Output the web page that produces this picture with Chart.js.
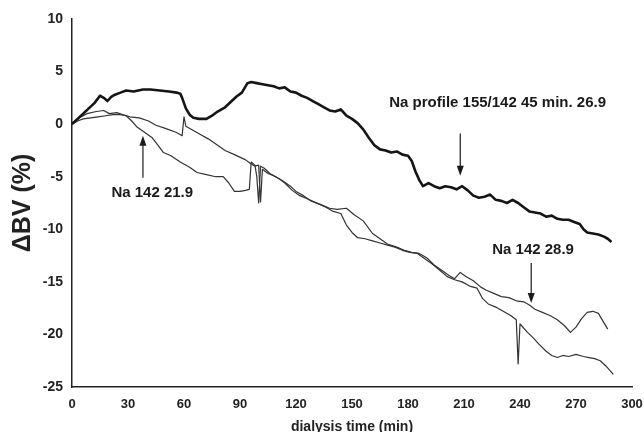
<!DOCTYPE html>
<html>
<head>
<meta charset="utf-8">
<title>Blood volume during dialysis</title>
<script src="https://cdn.jsdelivr.net/npm/chart.js@4.4.1/dist/chart.umd.min.js"></script>
<style>
  html, body { margin: 0; padding: 0; background: #fff; }
  #wrap { width: 644px; height: 432px; }
</style>
</head>
<body>
<div id="wrap"><canvas id="bvChart"></canvas></div>
<script>
// Na profile 155/142, 45 min (thick trace)
const profileTime = [0, 3, 6, 9, 12, 15, 17, 19, 21, 23, 26, 29, 33, 38, 42, 47, 52, 56, 58, 59, 61, 63, 65, 68, 72, 75, 78, 82, 85, 88, 91, 94, 96, 99, 102, 105, 108, 111, 114, 117, 120, 123, 126, 129, 132, 135, 138, 141, 144, 147, 150, 153, 156, 159, 162, 165, 168, 171, 174, 177, 180, 182, 184, 186, 188, 191, 194, 197, 200, 203, 206, 209, 212, 215, 218, 221, 224, 227, 230, 233, 236, 239, 242, 245, 248, 251, 254, 257, 260, 263, 266, 269, 272, 274, 276, 279, 282, 285, 287, 289];
const profileBV = [0, 0.5, 1.0, 1.5, 2.0, 2.7, 2.5, 2.2, 2.6, 2.8, 3.0, 3.2, 3.1, 3.3, 3.3, 3.2, 3.1, 3.0, 2.9, 2.5, 1.5, 0.9, 0.6, 0.5, 0.5, 0.8, 1.2, 1.6, 2.1, 2.6, 3.0, 3.9, 4.0, 3.9, 3.8, 3.7, 3.6, 3.4, 3.5, 3.1, 3.0, 2.7, 2.5, 2.2, 1.9, 1.6, 1.3, 1.2, 1.4, 0.8, 0.5, 0.1, -0.5, -1.3, -2.0, -2.4, -2.5, -2.7, -2.6, -2.9, -3.0, -3.5, -4.5, -5.3, -5.9, -5.6, -5.9, -6.1, -5.9, -6.0, -6.2, -5.9, -6.3, -6.8, -7.0, -6.9, -6.7, -7.2, -7.3, -7.5, -7.2, -7.5, -7.9, -8.3, -8.4, -8.5, -8.8, -8.7, -9.0, -9.1, -9.1, -9.3, -9.5, -10.0, -10.3, -10.4, -10.5, -10.7, -10.9, -11.2];

// Na 142, 21.9
const na219Time = [0, 3, 6, 10, 14, 18, 22, 26, 29, 32, 35, 39, 43, 46, 49, 53, 58, 63, 67, 72, 77, 81, 84, 87, 90, 93, 95, 96, 98, 99, 100, 101, 103, 106, 110, 113, 117, 120, 124, 128, 132, 136, 140, 144, 147, 150, 153, 157, 161, 165, 169, 173, 177, 181, 185, 189, 193, 197, 201, 205, 209, 213, 217, 220, 223, 227, 231, 235, 238, 239, 240, 241, 244, 247, 250, 254, 257, 260, 263, 266, 270, 274, 277, 280, 283, 286, 288, 290];
const na219BV = [0, 0.3, 0.5, 0.6, 0.7, 0.8, 0.9, 0.9, 0.8, 0.3, -0.3, -0.8, -1.3, -2.0, -2.7, -3.0, -3.6, -4.1, -4.6, -4.8, -5.0, -5.0, -5.6, -6.4, -6.4, -6.3, -6.2, -3.6, -3.9, -5.0, -7.5, -4.0, -4.2, -4.7, -5.1, -5.4, -5.9, -6.4, -6.8, -7.3, -7.6, -7.9, -8.3, -8.5, -9.6, -10.3, -10.8, -10.9, -11.1, -11.3, -11.5, -11.7, -12.0, -12.2, -12.3, -12.8, -13.3, -13.9, -14.5, -14.8, -15.0, -15.4, -15.6, -16.6, -17.1, -17.4, -17.8, -18.2, -18.6, -22.8, -19.0, -19.2, -19.8, -20.3, -20.9, -21.6, -22.0, -22.2, -22.0, -22.1, -21.9, -22.1, -22.2, -22.3, -22.5, -23.0, -23.4, -23.8];

// Na 142, 28.9
const na289Time = [0, 4, 8, 13, 17, 20, 24, 27, 31, 36, 41, 45, 50, 56, 59, 60, 61, 65, 69, 73, 78, 82, 87, 93, 96, 98, 100, 101, 102, 105, 108, 111, 114, 118, 122, 126, 130, 134, 138, 142, 147, 151, 156, 161, 165, 169, 174, 178, 182, 186, 190, 194, 198, 202, 205, 208, 211, 215, 219, 222, 226, 230, 234, 238, 242, 245, 248, 252, 256, 260, 264, 267, 270, 273, 276, 279, 282, 285, 287];
const na289BV = [0, 0.6, 1.0, 1.2, 1.3, 1.0, 1.1, 0.9, 0.7, 0.6, 0.3, -0.1, -0.4, -0.8, -1.1, 0.7, -0.2, -0.6, -1.0, -1.4, -2.0, -2.5, -2.9, -3.4, -3.8, -4.0, -3.9, -7.4, -4.3, -4.7, -4.9, -5.2, -5.6, -6.3, -6.8, -7.1, -7.4, -7.7, -8.0, -8.1, -8.0, -8.6, -9.2, -10.4, -10.9, -11.4, -11.7, -12.0, -12.2, -12.3, -12.7, -13.4, -13.9, -14.4, -14.7, -14.1, -14.5, -14.9, -15.5, -15.8, -16.1, -16.4, -16.5, -16.8, -16.9, -17.2, -17.6, -17.9, -18.2, -18.6, -19.2, -19.8, -19.3, -18.5, -17.9, -17.8, -18.0, -18.9, -19.5];

const xTicks = [0, 30, 60, 90, 120, 150, 180, 210, 240, 270, 300];
const yTicks = [10, 5, 0, -5, -10, -15, -20, -25];

function toPoints(ts, vs) {
    return ts.map((t, i) => ({ x: t, y: vs[i] }));
}

// text notes with their arrows, in data units (min, %)
const notes = [
    { text: 'Na 142 21.9', tx: 43, ty: -6.5, ax: 38, from: -5.1, to: -1.1 },
    { text: 'Na profile 155/142 45 min. 26.9', tx: 228, ty: 2.0, ax: 208, from: -0.9, to: -4.9 },
    { text: 'Na 142 28.9', tx: 247, ty: -12.0, ax: 246, from: -13.2, to: -17.0 }
];

const notesPlugin = {
    id: 'notes',
    afterDatasetsDraw(chart) {
        const ctx = chart.ctx;
        const xs = chart.scales.x, ys = chart.scales.y;
        ctx.save();
        ctx.fillStyle = '#1a1a1a';
        ctx.strokeStyle = '#1a1a1a';
        ctx.font = 'bold 15px "Liberation Sans", Arial, sans-serif';
        ctx.textAlign = 'center';
        ctx.textBaseline = 'middle';
        notes.forEach(n => {
            ctx.fillText(n.text, xs.getPixelForValue(n.tx), ys.getPixelForValue(n.ty));
            const x = xs.getPixelForValue(n.ax);
            const y0 = ys.getPixelForValue(n.from);
            const y1 = ys.getPixelForValue(n.to);
            const dir = y1 > y0 ? 1 : -1;
            ctx.lineWidth = 1.2;
            ctx.beginPath();
            ctx.moveTo(x, y0);
            ctx.lineTo(x, y1 - dir * 8);
            ctx.stroke();
            ctx.beginPath();
            ctx.moveTo(x, y1);
            ctx.lineTo(x - 3.5, y1 - dir * 10);
            ctx.lineTo(x + 3.5, y1 - dir * 10);
            ctx.closePath();
            ctx.fill();
        });
        ctx.restore();
    }
};

const fam = '"Liberation Sans", Arial, sans-serif';

const bvChart = new Chart(document.getElementById('bvChart'), {
    type: 'line',
    data: {
        datasets: [{
            label: 'Na profile 155/142 45 min. 26.9',
            data: toPoints(profileTime, profileBV),
            borderColor: '#151515',
            borderWidth: 2.6
        }, {
            label: 'Na 142 21.9',
            data: toPoints(na219Time, na219BV),
            borderColor: '#333',
            borderWidth: 1.2
        }, {
            label: 'Na 142 28.9',
            data: toPoints(na289Time, na289BV),
            borderColor: '#333',
            borderWidth: 1.2
        }]
    },
    options: {
        responsive: true,
        maintainAspectRatio: false,
        animation: false,
        layout: { padding: { top: 19, right: 12, left: 0, bottom: 0 } },
        elements: {
            point: { radius: 0 },
            line: { tension: 0, borderJoinStyle: 'round' }
        },
        plugins: {
            legend: { display: false },
            tooltip: { enabled: false }
        },
        scales: {
            x: {
                type: 'linear',
                min: 0,
                max: 300,
                afterBuildTicks: s => { s.ticks = xTicks.map(v => ({ value: v })); },
                afterFit: s => { s.height = 45; s.paddingLeft = 0; s.paddingRight = 0; },
                grid: { display: false, drawTicks: false },
                border: { display: true, color: '#222', width: 1.5 },
                ticks: { color: '#222', font: { family: fam, size: 13, weight: 'bold' }, padding: 10, maxRotation: 0 },
                title: {
                    display: true,
                    text: 'dialysis time (min)',
                    color: '#222',
                    font: { family: fam, size: 14, weight: 'bold' },
                    padding: { top: 0, bottom: -4 }
                }
            },
            y: {
                min: -25,
                max: 10,
                afterBuildTicks: s => { s.ticks = yTicks.map(v => ({ value: v })); },
                afterFit: s => { s.width = 72; },
                grid: { display: false, drawTicks: false },
                border: { display: true, color: '#222', width: 1.5 },
                ticks: { color: '#222', font: { family: fam, size: 14, weight: 'bold' }, padding: 9 },
                title: {
                    display: true,
                    text: 'ΔBV (%)',
                    color: '#222',
                    font: { family: fam, size: 25, weight: 'bold' },
                    padding: { top: 8, bottom: 0 }
                }
            }
        }
    },
    plugins: [notesPlugin]
});
</script>
</body>
</html>
